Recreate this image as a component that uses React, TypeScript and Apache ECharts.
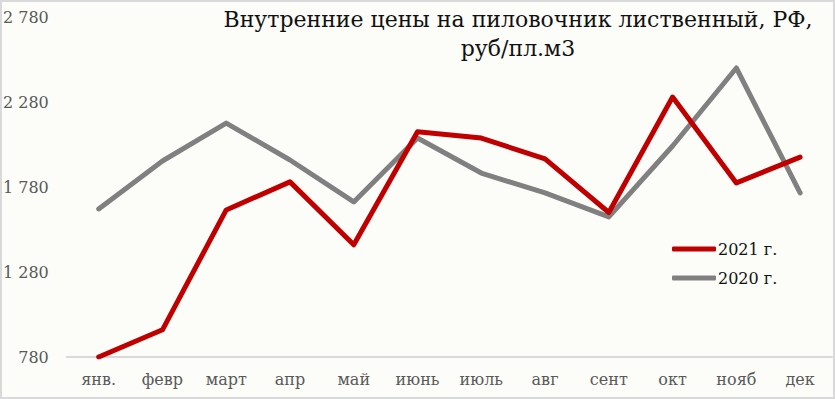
import React, { useEffect, useRef } from "react";
import * as echarts from "echarts";

const categories = ["янв.", "февр", "март", "апр", "май", "июнь", "июль", "авг", "сент", "окт", "нояб", "дек"];
const series2021 = [780, 940, 1645, 1810, 1440, 2105, 2068, 1945, 1630, 2309, 1804, 1956];
const series2020 = [1651, 1933, 2156, 1939, 1692, 2068, 1862, 1745, 1604, 2021, 2480, 1745];
const yTicks = [780, 1280, 1780, 2280, 2780];
const titleText = "Внутренние цены на пиловочник лиственный, РФ,\nруб/пл.м3";

const FONT = "DejaVu Serif";

export default function App() {
  const ref = useRef<HTMLDivElement>(null);
  useEffect(() => {
    document.body.style.margin = "0";
    const chart = echarts.init(ref.current!, undefined, { renderer: "svg" });
    chart.setOption({
      animation: false,
      backgroundColor: "#FCFCF8",
      textStyle: { fontFamily: FONT },
      title: {
        text: titleText,
        left: 513,
        top: 0,
        textAlign: "center",
        textStyle: {
          fontFamily: FONT,
          fontSize: 22,
          fontWeight: "normal",
          color: "#111",
          lineHeight: 29,
          align: "center",
        },
      },
      legend: {
        orient: "vertical",
        left: 667,
        top: 236,
        itemWidth: 44,
        itemHeight: 5,
        itemGap: 13,
        icon: "roundRect",
        textStyle: { fontFamily: FONT, fontSize: 16, color: "#111", padding: [0, 0, 0, -3] },
        data: ["2021 г.", "2020 г."],
      },
      grid: { left: 64, right: 3, top: 17, bottom: 42 },
      xAxis: {
        type: "category",
        data: categories,
        boundaryGap: true,
        axisLine: { show: true, lineStyle: { color: "#D9D9D9", width: 2 } },
        axisTick: { show: false },
        axisLabel: { fontFamily: FONT, fontSize: 16, color: "#595959", margin: 14 },
      },
      yAxis: {
        type: "value",
        min: yTicks[0],
        max: yTicks[yTicks.length - 1],
        interval: 500,
        axisLine: { show: false },
        axisTick: { show: false },
        splitLine: { show: false },
        axisLabel: {
          fontFamily: FONT,
          fontSize: 16,
          color: "#595959",
          margin: 18,
          formatter: (v: number) => String(v).replace(/\B(?=(\d{3})+(?!\d))/g, " "),
        },
      },
      series: [
        {
          name: "2021 г.",
          type: "line",
          data: series2021,
          symbol: "none",
          z: 3,
          itemStyle: { color: "#C00000" },
          lineStyle: { color: "#C00000", width: 5, cap: "round", join: "round" },
        },
        {
          name: "2020 г.",
          type: "line",
          data: series2020,
          symbol: "none",
          z: 2,
          itemStyle: { color: "#808080" },
          lineStyle: { color: "#808080", width: 5, cap: "round", join: "round" },
        },
      ],
      graphic: [
        {
          type: "rect",
          shape: { x: 1, y: 1, width: 833, height: 397 },
          style: { fill: "none", stroke: "#D9D9D9", lineWidth: 2 },
          silent: true,
        },
      ],
    });
    return () => chart.dispose();
  }, []);
  return <div ref={ref} style={{ width: 835, height: 399 }} />;
}
